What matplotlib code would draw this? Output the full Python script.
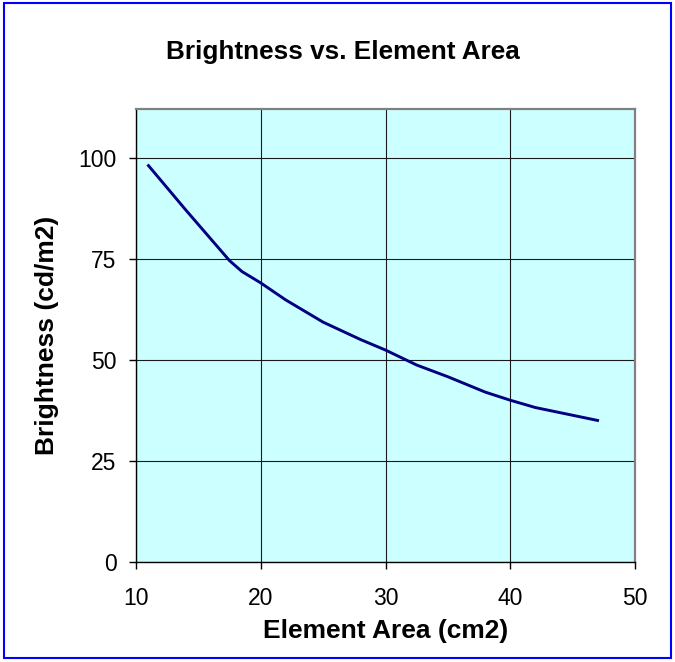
import matplotlib.pyplot as plt
from matplotlib.patches import Rectangle

plt.rcParams['font.family'] = ['Liberation Sans', 'DejaVu Sans']

area = [11, 14, 17.5, 18.5, 20, 22, 25, 28, 30, 32.5, 35, 38, 40, 42, 44.5, 47]
brightness = [98, 87, 74.5, 71.8, 69, 64.8, 59.3, 55, 52.4, 48.7, 45.8, 42, 40, 38.2, 36.6, 35]
x_ticks = [10, 20, 30, 40, 50]
y_ticks = [0, 25, 50, 75, 100]

W, H = 675, 662
fig = plt.figure(figsize=(W / 100, H / 100), dpi=100)
ax = fig.add_axes([136 / W, 1 - 562 / H, 499 / W, 453 / H])
ax.set_facecolor('#CCFFFF')

ax.plot(area, brightness, color='#000080', linewidth=2.1, zorder=3)

ax.set_xlim(10, 50)
ax.set_ylim(0, 112)
ax.set_xticks(x_ticks)
ax.set_yticks(y_ticks)
ax.grid(True, color='#1a1a1a', linewidth=0.8)
ax.set_axisbelow(True)
ax.tick_params(direction='out', length=5, width=1, labelsize=16.5)
ax.tick_params(axis='x', pad=13)
ax.tick_params(axis='y', pad=9)

for side in ['left', 'bottom']:
    ax.spines[side].set_color('black')
    ax.spines[side].set_linewidth(1)
for side in ['top', 'right']:
    ax.spines[side].set_color('#808080')
    ax.spines[side].set_linewidth(1.6)

fig.text(343 / W, 1 - 52 / H, 'Brightness vs. Element Area',
         fontsize=18.8, fontweight='bold', ha='center', va='center')
ax.set_xlabel('Element Area (cm2)', fontsize=19, fontweight='bold')
ax.set_ylabel('Brightness (cd/m2)', fontsize=19, fontweight='bold')
ax.xaxis.set_label_coords(0.5, (562 - 631) / 453)
ax.xaxis.label.set_verticalalignment('center')
ax.yaxis.set_label_coords((47 - 136) / 499, 0.5)
ax.yaxis.label.set_verticalalignment('center')

# blue border round the whole chart
fig.patches.append(Rectangle((4 / W, 4 / H), 1 - 8 / W, 1 - 7 / H, transform=fig.transFigure,
                             fill=False, edgecolor='#0000FF', linewidth=1.5))

fig.savefig('out.png', dpi=100)
